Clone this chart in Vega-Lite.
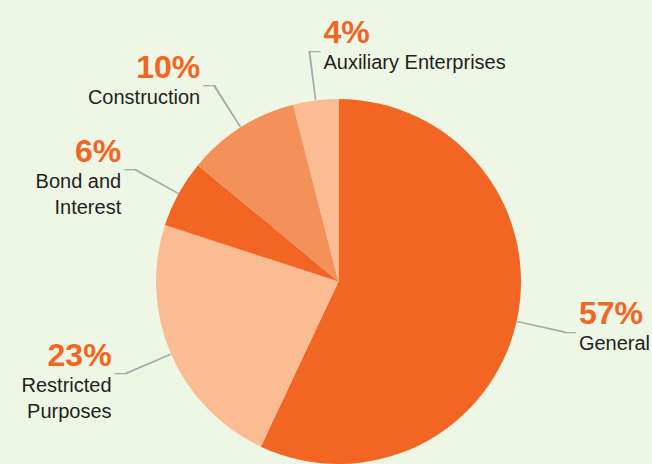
{
  "$schema": "https://vega.github.io/schema/vega-lite/v6.json",
  "width": 365,
  "height": 365,
  "autosize": "none",
  "padding": {"left": 156, "top": 99, "right": 131, "bottom": 0},
  "background": "#eef6e6",
  "config": {"view": {"stroke": null}, "font": "Liberation Sans"},
  "data": {
    "values": [
      {"category": "General", "value": 0.57},
      {"category": "Restricted\nPurposes", "value": 0.23},
      {"category": "Bond and\nInterest", "value": 0.06},
      {"category": "Construction", "value": 0.10},
      {"category": "Auxiliary Enterprises", "value": 0.04}
    ]
  },
  "transform": [{"window": [{"op": "row_number", "as": "idx"}]}],
  "layer": [
    {
      "mark": {"type": "arc"},
      "encoding": {
        "theta": {"field": "value", "type": "quantitative", "stack": true, "scale": {"domain": [0, 1]}},
        "color": {
          "field": "category",
          "type": "nominal",
          "scale": {
            "domain": ["General", "Restricted\nPurposes", "Bond and\nInterest", "Construction", "Auxiliary Enterprises"],
            "range": ["#f26522", "#fbbc94", "#f26522", "#f4915b", "#fbbc94"]
          },
          "legend": null
        },
        "order": {"field": "idx", "type": "quantitative"}
      }
    },
    {
      "transform": [{"stack": "value", "groupby": [], "sort": [{"field": "idx", "order": "ascending"}], "as": ["s", "e"]}],
      "mark": {
        "type": "arc",
        "radius": 232,
        "radius2": 183,
        "color": "#a7a9ac",
        "thetaOffset": {"expr": "(scale('theta', datum.e) - scale('theta', datum.s)) / 2 - 0.0043"},
        "theta2Offset": {"expr": "-(scale('theta', datum.e) - scale('theta', datum.s)) / 2 + 0.0043"}
      },
      "encoding": {
        "theta": {"field": "s", "type": "quantitative", "stack": null},
        "theta2": {"field": "e"}
      }
    },
    {
      "mark": {
        "type": "text",
        "text": "—",
        "radius": 232,
        "fontSize": 12,
        "fontWeight": "bold",
        "color": "#a7a9ac",
        "baseline": "alphabetic",
        "dy": 3.5,
        "align": {"expr": "(datum.value_start + datum.value_end) / 2 < 0.5 || (datum.value_start + datum.value_end) / 2 > 0.95 ? 'left' : 'right'"},
        "dx": {"expr": "(datum.value_start + datum.value_end) / 2 < 0.5 || (datum.value_start + datum.value_end) / 2 > 0.95 ? -1 : 1"}
      },
      "encoding": {
        "theta": {"field": "value", "type": "quantitative", "stack": true},
        "detail": {"field": "category"},
        "order": {"field": "idx", "type": "quantitative"}
      }
    },
    {
      "mark": {
        "type": "text",
        "radius": 232,
        "fontSize": 32,
        "fontWeight": "bold",
        "color": "#f26522",
        "baseline": "alphabetic",
        "dy": -8,
        "align": {"expr": "(datum.value_start + datum.value_end) / 2 < 0.5 || (datum.value_start + datum.value_end) / 2 > 0.95 ? 'left' : 'right'"},
        "dx": {"expr": "(datum.value_start + datum.value_end) / 2 < 0.5 || (datum.value_start + datum.value_end) / 2 > 0.95 ? 14 : -14"}
      },
      "encoding": {
        "theta": {"field": "value", "type": "quantitative", "stack": true},
        "detail": {"field": "category"},
        "order": {"field": "idx", "type": "quantitative"},
        "text": {"field": "value", "type": "quantitative", "format": ".0%"}
      }
    },
    {
      "mark": {
        "type": "text",
        "radius": 232,
        "fontSize": 20,
        "color": "#231f20",
        "baseline": "alphabetic",
        "lineBreak": "\n",
        "lineHeight": 26,
        "dy": 18,
        "align": {"expr": "(datum.value_start + datum.value_end) / 2 < 0.5 || (datum.value_start + datum.value_end) / 2 > 0.95 ? 'left' : 'right'"},
        "dx": {"expr": "(datum.value_start + datum.value_end) / 2 < 0.5 || (datum.value_start + datum.value_end) / 2 > 0.95 ? 14 : -14"}
      },
      "encoding": {
        "theta": {"field": "value", "type": "quantitative", "stack": true},
        "detail": {"field": "category"},
        "order": {"field": "idx", "type": "quantitative"},
        "text": {"field": "category", "type": "nominal"}
      }
    }
  ]
}
